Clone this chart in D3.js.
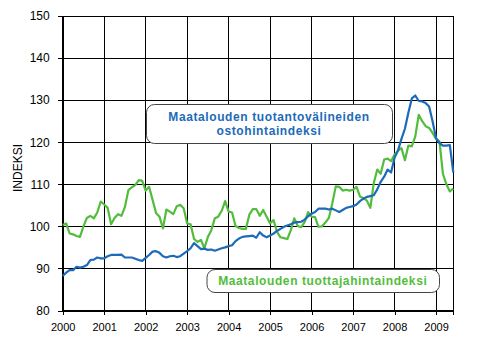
<!DOCTYPE html>
<html>
<head>
<meta charset="utf-8">
<script src="https://cdn.jsdelivr.net/npm/d3@7/dist/d3.min.js"></script>
<style>
  html, body { margin: 0; padding: 0; background: #fff; }
  svg { display: block; font-family: "Liberation Sans", Arial, sans-serif; }
</style>
</head>
<body>
<svg id="chart" width="496" height="343"></svg>
<script>
// Monthly index values, January 2000 – June 2009 (2000 = 100)
const startYear = 2000;
const yearLabels = ["2000", "2001", "2002", "2003", "2004", "2005", "2006", "2007", "2008", "2009"];
const yTicks = [80, 90, 100, 110, 120, 130, 140, 150];

// Maatalouden tuotantovälineiden ostohintaindeksi
const inputPrices = [
  88.2, 89.0, 89.6, 89.6, 90.4, 90.2, 90.4, 90.8, 92.0, 92.1, 92.6, 92.4,
  92.4, 92.9, 93.2, 93.2, 93.2, 93.3, 92.6, 92.6, 92.6, 92.3, 92.0, 91.8,
  92.5, 93.2, 94.0, 94.1, 93.7, 92.9, 92.6, 92.9, 93.0, 92.7, 92.9, 93.5,
  94.1, 94.8, 96.0, 95.3, 94.6, 94.7, 94.4, 94.5, 94.2, 94.5, 94.8, 95.0,
  95.3, 95.5, 96.5, 97.1, 97.5, 97.6, 97.7, 97.8, 97.3, 98.6, 97.8, 97.4,
  97.8, 98.3, 98.9, 99.4, 99.9, 100.2, 100.5, 100.9, 101.0, 101.1, 101.6, 102.4,
  103.0, 103.4, 104.2, 104.2, 104.2, 104.0, 104.2, 103.8, 103.4, 103.9, 104.4, 104.6,
  104.8, 105.2, 106.0, 106.6, 107.0, 107.2, 107.4, 108.8, 110.6, 111.8, 113.5, 112.8,
  116.3, 118.0, 120.8, 123.2, 127.0, 130.4, 131.1, 129.8, 129.7, 129.3, 128.5, 125.0,
  121.0, 119.8, 119.2, 119.2, 119.3, 112.8
];

// Maatalouden tuottajahintaindeksi
const producerPrices = [
  100.3, 100.7, 98.3, 98.1, 97.7, 97.5, 100.0, 102.0, 102.5, 101.9, 103.3, 105.9,
  105.2, 104.4, 100.5, 102.0, 102.9, 102.5, 104.6, 108.6, 109.3, 109.8, 111.0, 110.8,
  108.5, 109.4, 106.3, 103.2, 102.3, 99.5, 104.0, 103.5, 102.9, 104.8, 105.1, 104.3,
  100.7, 100.5, 97.0, 96.3, 96.8, 94.8, 97.5, 99.1, 101.9, 102.3, 103.7, 106.0,
  103.5, 103.3, 100.1, 99.6, 99.4, 99.4, 102.8, 104.1, 104.1, 102.5, 103.9, 102.3,
  100.7, 101.5, 98.7, 97.4, 97.2, 97.0, 99.1, 101.9, 100.1, 99.8, 101.0, 103.4,
  102.3, 102.2, 99.9, 100.0, 100.9, 102.0, 105.5, 109.5, 109.4, 108.5, 108.7, 108.5,
  108.7, 109.4, 107.1, 106.7, 106.1, 104.4, 110.3, 113.5, 112.5, 115.9, 116.1, 115.5,
  117.1, 118.0, 118.6, 115.7, 119.2, 119.0, 121.4, 126.5, 125.0, 123.8, 123.4, 122.2,
  120.8, 120.2, 112.5, 110.0, 108.3, 109.0
];

const inputLabel = ["Maatalouden tuotantovälineiden", "ostohintaindeksi"];
const producerLabel = ["Maatalouden tuottajahintaindeksi"];

const blue = "#1d6ab9";
const green = "#52bd3c";

const svg = d3.select("#chart");
const plot = { left: 62.7, right: 453.3, top: 16, bottom: 310.5 };

const x = d3.scaleLinear()
  .domain([0, inputPrices.length - 1])
  .range([plot.left, plot.right]);
const y = d3.scaleLinear()
  .domain([80, 150])
  .range([plot.bottom, plot.top]);

const yearTicks = yearLabels.map((_, i) => i * 12);

// Gridlines
const grid = svg.append("g").attr("stroke", "#000").attr("stroke-width", 1).attr("shape-rendering", "crispEdges");
grid.selectAll(".hg").data(yTicks).join("line")
  .attr("x1", plot.left).attr("x2", plot.right)
  .attr("y1", d => y(d)).attr("y2", d => y(d));
grid.selectAll(".vg").data(yearTicks.concat([inputPrices.length - 1])).join("line")
  .attr("x1", d => x(d)).attr("x2", d => x(d))
  .attr("y1", plot.top).attr("y2", plot.bottom);

// Y axis
const yAxis = svg.append("g")
  .attr("transform", `translate(${plot.left},0)`)
  .call(d3.axisLeft(y).tickValues(yTicks).tickSize(5).tickPadding(8).tickFormat(d3.format("d")));
yAxis.select(".domain").attr("stroke", "#000").attr("shape-rendering", "crispEdges");
yAxis.selectAll(".tick line").attr("stroke", "#000").attr("shape-rendering", "crispEdges");
yAxis.selectAll("text").attr("font-size", 12).attr("fill", "#000")
  .attr("font-family", "'Liberation Sans', Arial, sans-serif");

// X axis
const xAxis = svg.append("g")
  .attr("transform", `translate(0,${plot.bottom})`)
  .call(d3.axisBottom(x).tickValues(yearTicks).tickSize(4).tickPadding(9)
    .tickFormat((d, i) => yearLabels[i]));
xAxis.select(".domain").attr("stroke", "#000").attr("shape-rendering", "crispEdges");
xAxis.selectAll(".tick line").attr("stroke", "#000").attr("shape-rendering", "crispEdges");
xAxis.selectAll("text").attr("font-size", 11).attr("fill", "#000")
  .attr("font-family", "'Liberation Sans', Arial, sans-serif");

// Axis title
svg.append("text")
  .attr("transform", "translate(22,168) rotate(-90)")
  .attr("text-anchor", "middle")
  .attr("font-size", 12)
  .attr("fill", "#000")
  .text("INDEKSI");

// Series lines
const line = d3.line()
  .x((d, i) => x(i))
  .y(d => y(d));

svg.append("path")
  .datum(producerPrices)
  .attr("fill", "none")
  .attr("stroke", green)
  .attr("stroke-width", 2.2)
  .attr("stroke-linejoin", "round")
  .attr("d", line);

svg.append("path")
  .datum(inputPrices)
  .attr("fill", "none")
  .attr("stroke", blue)
  .attr("stroke-width", 2.2)
  .attr("stroke-linejoin", "round")
  .attr("d", line);

// Series label boxes
function labelBox(x0, y0, w, h, lines, color, lineGap) {
  const g = svg.append("g");
  g.append("rect")
    .attr("x", x0 + 0.5).attr("y", y0 + 0.5)
    .attr("width", w).attr("height", h)
    .attr("rx", 8).attr("ry", 8)
    .attr("fill", "#fff")
    .attr("stroke", "#444")
    .attr("stroke-width", 1);
  const cx = x0 + w / 2;
  const firstY = y0 + h / 2 - (lines.length - 1) * lineGap / 2 + 4.5;
  lines.forEach((t, i) => {
    g.append("text")
      .attr("x", cx)
      .attr("y", firstY + i * lineGap)
      .attr("text-anchor", "middle")
      .attr("font-size", 12)
      .attr("font-weight", "bold")
      .attr("letter-spacing", 0.6)
      .attr("fill", color)
      .text(t);
  });
}

labelBox(146, 104, 246, 39, inputLabel, blue, 14.5);
labelBox(206.5, 269, 232.5, 23, producerLabel, green, 0);
</script>
</body>
</html>
